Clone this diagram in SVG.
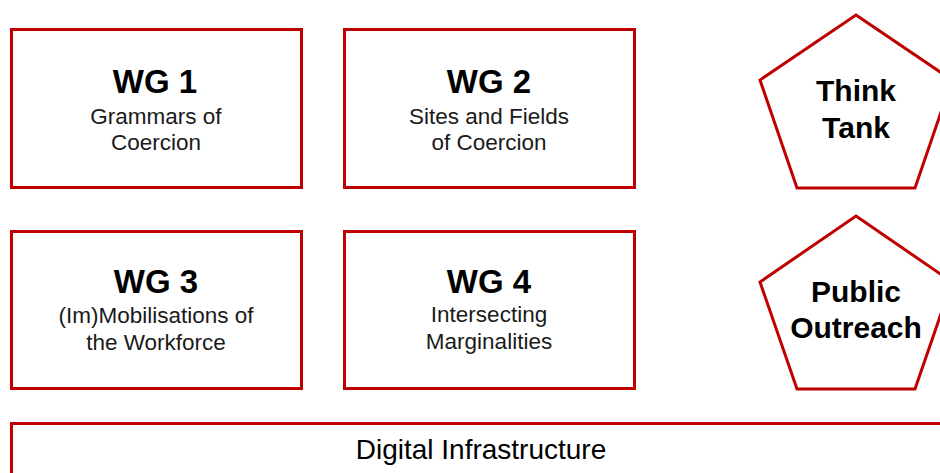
<svg xmlns="http://www.w3.org/2000/svg" width="940" height="473" viewBox="0 0 940 473">
<style>
.box{fill:#fff;stroke:#c00000;stroke-width:3}
.t{font-family:"Liberation Sans",Arial,sans-serif;font-weight:bold;font-size:33px;fill:#000;text-anchor:middle}
.s{font-family:"Liberation Sans",Arial,sans-serif;font-size:22.5px;fill:#1a1a1a;text-anchor:middle}
.p{font-family:"Liberation Sans",Arial,sans-serif;font-weight:bold;font-size:30px;fill:#000;text-anchor:middle}
.d{font-family:"Liberation Sans",Arial,sans-serif;font-size:28px;fill:#000;text-anchor:middle}
</style>
<rect width="940" height="473" fill="#fff"/>
<g id="wg1">
<rect class="box" x="11.5" y="29.5" width="290" height="158"/>
<text class="t" x="155" y="93">WG 1</text>
<text class="s" x="156" y="124">Grammars of</text>
<text class="s" x="156" y="150">Coercion</text>
</g>
<g id="wg2">
<rect class="box" x="344.5" y="29.5" width="290" height="158"/>
<text class="t" x="489" y="93">WG 2</text>
<text class="s" x="489" y="124">Sites and Fields</text>
<text class="s" x="489" y="150">of Coercion</text>
</g>
<g id="wg3">
<rect class="box" x="11.5" y="231.5" width="290" height="157"/>
<text class="t" x="156" y="293">WG 3</text>
<text class="s" x="156" y="323">(Im)Mobilisations of</text>
<text class="s" x="156" y="350">the Workforce</text>
</g>
<g id="wg4">
<rect class="box" x="344.5" y="231.5" width="290" height="157"/>
<text class="t" x="489" y="293">WG 4</text>
<text class="s" x="489" y="322">Intersecting</text>
<text class="s" x="489" y="349">Marginalities</text>
</g>
<g id="think-tank">
<polygon class="box" points="856,15 952,80 915,188 797,188 760,80"/>
<text class="p" x="856" y="101">Think</text>
<text class="p" x="856" y="138">Tank</text>
</g>
<g id="public-outreach">
<polygon class="box" points="856,216 952,282 915,389 797,389 760,282"/>
<text class="p" x="856" y="302">Public</text>
<text class="p" x="856" y="338">Outreach</text>
</g>
<g id="digital-infrastructure">
<rect class="box" x="11.5" y="423.5" width="940" height="80"/>
<text class="d" x="481" y="459">Digital Infrastructure</text>
</g>
<g id="connectors"></g>
</svg>
